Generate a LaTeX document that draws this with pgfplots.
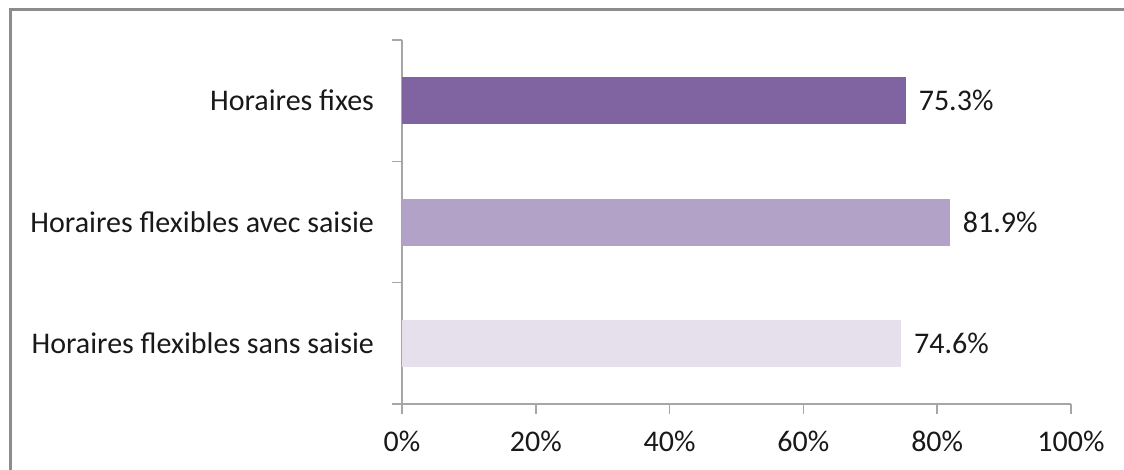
\documentclass[border=0pt]{standalone}
\usepackage{pgfplots}
\pgfplotsset{compat=1.18}
\usepackage{fontspec}
\setmainfont{Carlito}
\definecolor{barA}{HTML}{8064A2}
\definecolor{barB}{HTML}{B3A2C7}
\definecolor{barC}{HTML}{E6E0EC}
\definecolor{axgray}{HTML}{A6A6A6}
\definecolor{framegray}{HTML}{8C8C8C}
\begin{document}
\begin{tikzpicture}
\path[use as bounding box] (0,0) rectangle (562pt,-235pt);
\draw[framegray, line width=1.5pt] (5pt,-240pt) -- (5pt,-5pt) -- (570pt,-5pt);
\begin{axis}[
  at={(201pt,-202pt)}, anchor=south west,
  scale only axis, width=334.5pt, height=182pt,
  xmin=0, xmax=100, ymin=0, ymax=3,
  axis x line*=bottom, axis y line*=left,
  axis line style={axgray, line width=0.75pt},
  tick style={axgray, line width=0.75pt},
  tick align=outside,
  xtick={0,20,40,60,80,100},
  xticklabels={0\%,20\%,40\%,60\%,80\%,100\%},
  major tick length=5pt,
  ytick={0,1,2,3},
  yticklabels={},
  extra y ticks={0.5,1.5,2.5},
  extra y tick labels={Horaires flexibles sans saisie,Horaires flexibles avec saisie,Horaires fixes},
  extra y tick style={tick style={draw=none}},
  ticklabel style={font=\fontsize{15}{18}\selectfont, text=black!90},
  xticklabel style={yshift=-5pt},
  yticklabel style={xshift=-5.5pt},
  /pgf/number format/assume math mode=true,
  xbar, bar width=23.5pt, bar shift=0pt,
  nodes near coords={\pgfmathprintnumber[fixed,precision=1,fixed zerofill]{\pgfplotspointmeta}\%},
  nodes near coords style={font=\fontsize{15}{18}\selectfont, text=black!90, xshift=3pt},
  point meta=x,
]
\addplot[fill=barC, draw=none] coordinates {(74.6,0.5)};
\addplot[fill=barB, draw=none] coordinates {(81.9,1.5)};
\addplot[fill=barA, draw=none] coordinates {(75.3,2.5)};
\end{axis}
\end{tikzpicture}
\end{document}
